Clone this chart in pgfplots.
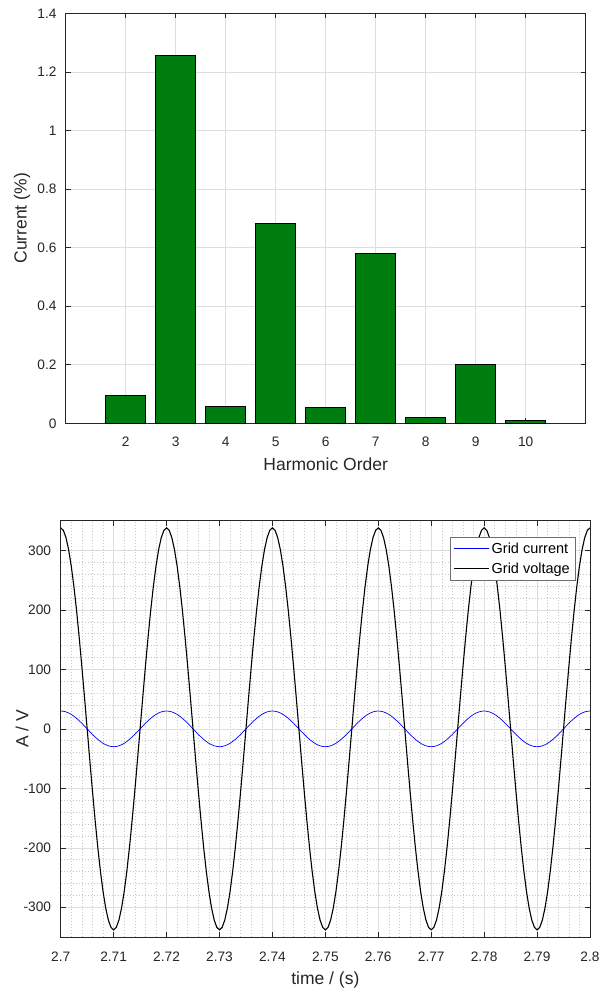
\documentclass[border=0pt]{standalone}
\usepackage{fontspec}
\setmainfont{Liberation Sans}
\usepackage{pgfplots}
\pgfplotsset{compat=1.18}
\usepackage{pgfplotstable}
\definecolor{barg}{RGB}{0,125,15}
\definecolor{axc}{RGB}{38,38,38}
\definecolor{gridc}{RGB}{222,222,222}
\definecolor{mgridc}{RGB}{200,200,200}
\definecolor{legc}{RGB}{110,110,110}

\pgfplotstableread{
t I V
2.7000 30 338
2.7005 29.6 333.8
2.7010 28.5 321.5
2.7015 26.7 301.2
2.7020 24.3 273.4
2.7025 21.2 239.0
2.7030 17.6 198.7
2.7035 13.6 153.4
2.7040 9.3 104.4
2.7045 4.7 52.9
2.7050 0 0
2.7055 -4.7 -52.9
2.7060 -9.3 -104.4
2.7065 -13.6 -153.4
2.7070 -17.6 -198.7
2.7075 -21.2 -239.0
2.7080 -24.3 -273.4
2.7085 -26.7 -301.2
2.7090 -28.5 -321.5
2.7095 -29.6 -333.8
2.7100 -30 -338
2.7105 -29.6 -333.8
2.7110 -28.5 -321.5
2.7115 -26.7 -301.2
2.7120 -24.3 -273.4
2.7125 -21.2 -239.0
2.7130 -17.6 -198.7
2.7135 -13.6 -153.4
2.7140 -9.3 -104.4
2.7145 -4.7 -52.9
2.7150 0 0
2.7155 4.7 52.9
2.7160 9.3 104.4
2.7165 13.6 153.4
2.7170 17.6 198.7
2.7175 21.2 239.0
2.7180 24.3 273.4
2.7185 26.7 301.2
2.7190 28.5 321.5
2.7195 29.6 333.8
2.7200 30 338
2.7205 29.6 333.8
2.7210 28.5 321.5
2.7215 26.7 301.2
2.7220 24.3 273.4
2.7225 21.2 239.0
2.7230 17.6 198.7
2.7235 13.6 153.4
2.7240 9.3 104.4
2.7245 4.7 52.9
2.7250 0 0
2.7255 -4.7 -52.9
2.7260 -9.3 -104.4
2.7265 -13.6 -153.4
2.7270 -17.6 -198.7
2.7275 -21.2 -239.0
2.7280 -24.3 -273.4
2.7285 -26.7 -301.2
2.7290 -28.5 -321.5
2.7295 -29.6 -333.8
2.7300 -30 -338
2.7305 -29.6 -333.8
2.7310 -28.5 -321.5
2.7315 -26.7 -301.2
2.7320 -24.3 -273.4
2.7325 -21.2 -239.0
2.7330 -17.6 -198.7
2.7335 -13.6 -153.4
2.7340 -9.3 -104.4
2.7345 -4.7 -52.9
2.7350 0 0
2.7355 4.7 52.9
2.7360 9.3 104.4
2.7365 13.6 153.4
2.7370 17.6 198.7
2.7375 21.2 239.0
2.7380 24.3 273.4
2.7385 26.7 301.2
2.7390 28.5 321.5
2.7395 29.6 333.8
2.7400 30 338
2.7405 29.6 333.8
2.7410 28.5 321.5
2.7415 26.7 301.2
2.7420 24.3 273.4
2.7425 21.2 239.0
2.7430 17.6 198.7
2.7435 13.6 153.4
2.7440 9.3 104.4
2.7445 4.7 52.9
2.7450 0 0
2.7455 -4.7 -52.9
2.7460 -9.3 -104.4
2.7465 -13.6 -153.4
2.7470 -17.6 -198.7
2.7475 -21.2 -239.0
2.7480 -24.3 -273.4
2.7485 -26.7 -301.2
2.7490 -28.5 -321.5
2.7495 -29.6 -333.8
2.7500 -30 -338
2.7505 -29.6 -333.8
2.7510 -28.5 -321.5
2.7515 -26.7 -301.2
2.7520 -24.3 -273.4
2.7525 -21.2 -239.0
2.7530 -17.6 -198.7
2.7535 -13.6 -153.4
2.7540 -9.3 -104.4
2.7545 -4.7 -52.9
2.7550 0 0
2.7555 4.7 52.9
2.7560 9.3 104.4
2.7565 13.6 153.4
2.7570 17.6 198.7
2.7575 21.2 239.0
2.7580 24.3 273.4
2.7585 26.7 301.2
2.7590 28.5 321.5
2.7595 29.6 333.8
2.7600 30 338
2.7605 29.6 333.8
2.7610 28.5 321.5
2.7615 26.7 301.2
2.7620 24.3 273.4
2.7625 21.2 239.0
2.7630 17.6 198.7
2.7635 13.6 153.4
2.7640 9.3 104.4
2.7645 4.7 52.9
2.7650 0 0
2.7655 -4.7 -52.9
2.7660 -9.3 -104.4
2.7665 -13.6 -153.4
2.7670 -17.6 -198.7
2.7675 -21.2 -239.0
2.7680 -24.3 -273.4
2.7685 -26.7 -301.2
2.7690 -28.5 -321.5
2.7695 -29.6 -333.8
2.7700 -30 -338
2.7705 -29.6 -333.8
2.7710 -28.5 -321.5
2.7715 -26.7 -301.2
2.7720 -24.3 -273.4
2.7725 -21.2 -239.0
2.7730 -17.6 -198.7
2.7735 -13.6 -153.4
2.7740 -9.3 -104.4
2.7745 -4.7 -52.9
2.7750 0 0
2.7755 4.7 52.9
2.7760 9.3 104.4
2.7765 13.6 153.4
2.7770 17.6 198.7
2.7775 21.2 239.0
2.7780 24.3 273.4
2.7785 26.7 301.2
2.7790 28.5 321.5
2.7795 29.6 333.8
2.7800 30 338
2.7805 29.6 333.8
2.7810 28.5 321.5
2.7815 26.7 301.2
2.7820 24.3 273.4
2.7825 21.2 239.0
2.7830 17.6 198.7
2.7835 13.6 153.4
2.7840 9.3 104.4
2.7845 4.7 52.9
2.7850 0 0
2.7855 -4.7 -52.9
2.7860 -9.3 -104.4
2.7865 -13.6 -153.4
2.7870 -17.6 -198.7
2.7875 -21.2 -239.0
2.7880 -24.3 -273.4
2.7885 -26.7 -301.2
2.7890 -28.5 -321.5
2.7895 -29.6 -333.8
2.7900 -30 -338
2.7905 -29.6 -333.8
2.7910 -28.5 -321.5
2.7915 -26.7 -301.2
2.7920 -24.3 -273.4
2.7925 -21.2 -239.0
2.7930 -17.6 -198.7
2.7935 -13.6 -153.4
2.7940 -9.3 -104.4
2.7945 -4.7 -52.9
2.7950 0 0
2.7955 4.7 52.9
2.7960 9.3 104.4
2.7965 13.6 153.4
2.7970 17.6 198.7
2.7975 21.2 239.0
2.7980 24.3 273.4
2.7985 26.7 301.2
2.7990 28.5 321.5
2.7995 29.6 333.8
2.8000 30 338
}\wavedata

\pgfplotstableread{
h c
2 0.094
3 1.255
4 0.057
5 0.683
6 0.054
7 0.579
8 0.021
9 0.202
10 0.011
}\harmdata

\begin{document}
\begin{tikzpicture}
\path[use as bounding box] (0pt,0pt) rectangle (600pt,-992pt);
\pgfplotsset{every axis/.append style={
  scale only axis,
  axis line style={axc, line width=0.6pt},
  tick style={axc, line width=0.6pt},
  major tick length=5pt,
  minor tick length=0pt,
  tick label style={font=\fontsize{13.7}{16}\selectfont, text=axc, inner sep=0pt},
  label style={font=\fontsize{17.5}{20}\selectfont, text=axc, inner sep=0pt},
  /pgf/number format/assume math mode=true,
  grid style={gridc, line width=0.6pt},
}}
\begin{axis}[
  at={(65.7pt,-423.3pt)}, anchor=south west,
  width=520pt, height=410pt,
  xmin=0.8, xmax=11.2, ymin=0, ymax=1.4,
  xtick={2,3,4,5,6,7,8,9,10},
  ytick={0,0.2,0.4,0.6,0.8,1,1.2,1.4},
  xmajorgrids, ymajorgrids,
  xticklabel style={anchor=center, yshift=-18.7pt},
  yticklabel style={anchor=east, xshift=-9pt},
  xlabel={Harmonic Order}, ylabel={Current (\%)},
  xlabel style={at={(axis description cs:0.5,-0.0995)}, anchor=center},
  ylabel style={at={(axis description cs:-0.084,0.5)}, anchor=center},
]
\addplot[ybar, bar width=0.8, fill=barg, draw=black, line width=0.6pt] table[x=h,y=c]{\harmdata};
\end{axis}

\begin{axis}[
  at={(60.7pt,-937pt)}, anchor=south west,
  width=529.3pt, height=416.3pt,
  xmin=2.7, xmax=2.8, ymin=-350, ymax=350,
  xtick={2.7,2.71,2.72,2.73,2.74,2.75,2.76,2.77,2.78,2.79,2.8},
  ytick={-300,-200,-100,0,100,200,300},
  minor x tick num=4, minor y tick num=4,
  grid=both,
  minor grid style={mgridc, dash pattern=on 0.8pt off 2.2pt, line width=0.6pt},
  scaled ticks=false,
  xticklabel style={/pgf/number format/fixed, /pgf/number format/precision=2, anchor=center, yshift=-20pt},
  yticklabel style={anchor=east, xshift=-9.5pt},
  xlabel={time / (s)}, ylabel={A / V},
  xlabel style={at={(axis description cs:0.5,-0.102)}, anchor=center},
  ylabel style={at={(axis description cs:-0.0731,0.5)}, anchor=center},
  legend style={at={(0.9717,0.9608)}, anchor=north east, draw=legc, fill=white,
    font=\fontsize{14.5}{16}\selectfont, inner xsep=3pt, inner ysep=3.5pt,
    row sep=4pt},
  legend cell align=left,
  legend image post style={xscale=2.05},
]
\addplot[color=blue, draw=blue, line width=0.7pt] table[x=t,y=I]{\wavedata};
\addlegendentry{Grid current}
\addplot[color=black, draw=black, line width=1.1pt] table[x=t,y=V]{\wavedata};
\addlegendentry{Grid voltage}
\end{axis}
\end{tikzpicture}
\end{document}
